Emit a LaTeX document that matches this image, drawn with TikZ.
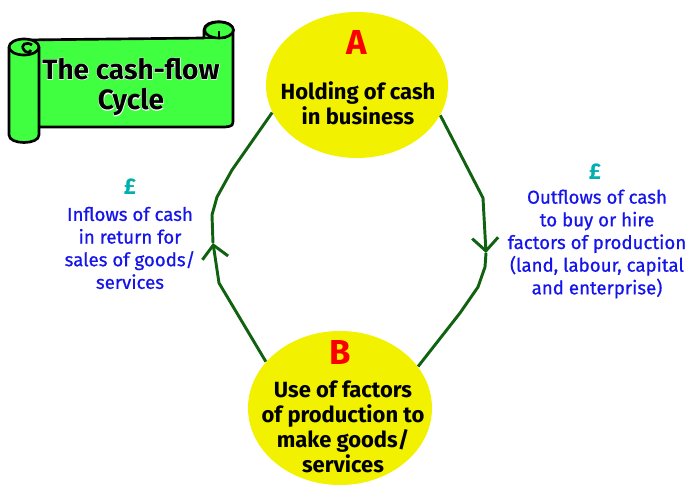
\documentclass[tikz,border=0pt]{standalone}
\usepackage{fontspec}
\setmainfont{Fira Sans}
\newfontfamily\flowfont[UprightFeatures={FakeBold=0.7}]{Fira Sans}
\newfontfamily\halofont[BoldFeatures={FakeBold=3.5}]{Fira Sans}
\usetikzlibrary{arrows.meta,shapes.geometric}

\definecolor{cashyellow}{RGB}{242,242,0}
\definecolor{flowgreen}{RGB}{16,98,16}
\definecolor{scrollgreen}{RGB}{64,255,64}
\definecolor{inkblue}{RGB}{20,20,235}
\definecolor{pound}{RGB}{0,175,175}
\definecolor{letterred}{RGB}{250,0,0}

\tikzset{every picture/.style={line width=0.75pt}}

\begin{document}
\begin{tikzpicture}[x=0.75pt,y=0.75pt,yscale=-1,xscale=1,
	bubble/.style={ellipse, fill=cashyellow, inner sep=0pt},
	bubbletext/.style={align=center, font=\fontsize{16.5}{18.75}\selectfont\bfseries},
	letter/.style={text=letterred, font=\fontsize{26}{26}\selectfont\bfseries},
	flowtext/.style={align=center, text=inkblue, font=\flowfont\fontsize{14}{17}\selectfont},
	poundsign/.style={text=pound, font=\fontsize{17}{17}\selectfont\bfseries},
	flow/.style={draw=flowgreen, line width=2.2pt, line join=round},
	barb/.style={-{Straight Barb[length=9.75pt,width=19.5pt,line width=2.2pt]}},
	scroll/.style={draw=black, fill=scrollgreen, line width=2pt, line join=round},
	titletext/.style={align=center, font=\fontsize{21}{23}\selectfont\bfseries},
	titlehalo/.style={align=center, text=white, font=\halofont\fontsize{21}{23}\selectfont\bfseries}
	]
	\useasboundingbox (0,0) rectangle (696,488);

	%Scroll body with right roll
	\draw [scroll] (24,40) -- (204,38) -- (204,30) .. controls (204,19) and (233,19) .. (233,30) -- (233,118) .. controls (233,126) .. (225,127) -- (39,127) -- cycle ;
	\draw [scroll] (219,30) ellipse [x radius=14.5, y radius=8] ;
	\draw [line width=2pt] (205,38) -- (226,38) ;
	\draw [line width=2pt] (219,31) -- (219,38) ;
	%Scroll left roll
	\draw [scroll] (9,47) -- (9,135) .. controls (9,145) and (39,145) .. (39,135) -- (39,47) ;
	\draw [scroll] (24,47) ellipse [x radius=15, y radius=8] ;
	\draw [line width=2pt] (32,45) .. controls (26,41) and (20,45) .. (24,50) .. controls (26,53) and (30,53) .. (31,50) ;

	% Title
	\node [titlehalo] (titlehalo) at (131,87) {The cash-flow\\Cycle};
	\node [titletext] (title) at (131,87) {The cash-flow\\Cycle};

	% Bubbles
	\node [bubble, minimum width=136.5pt, minimum height=109.5pt] (A) at (357,85) {};
	\node [bubble, minimum width=138pt, minimum height=115.5pt] (B) at (340,408) {};

	\node [letter] (Aletter) at (357,42) {A};
	\node [bubbletext] (Atext) at (358,103) {Holding of cash\\in business};
	\node [letter] (Bletter) at (340,352) {B};
	\node [bubbletext] (Btext) at (343,427) {Use of factors\\of production to\\make goods/\\services};

	% Flow lines
	\coordinate (L1) at (232,170);
	\coordinate (L2) at (217,197);
	\coordinate (L3) at (212,215);
	\coordinate (Ltip) at (213,243);
	\coordinate (L4) at (219,283);
	\coordinate (R1) at (483,198);
	\coordinate (Rtip) at (486,253);
	\coordinate (R2) at (485,267);
	\coordinate (R3) at (478,287);
	\coordinate (R4) at (460,313);

	\draw [flow] (Ltip) -- (L3) -- (L2) -- (L1) -- (A.198) ;
	\draw [flow, barb] (B.148) -- (L4) -- (Ltip) ;
	\draw [flow, barb] (A.340) -- (R1) -- (Rtip) ;
	\draw [flow] (Rtip) -- (R2) -- (R3) -- (R4) -- (B.28) ;

	% Side texts
	\node [poundsign] (inpound) at (130,187) {£};
	\node [flowtext] (intext) at (130,248) {Inflows of cash\\in return for\\sales of goods/\\services};
	\node [poundsign] (outpound) at (595,172) {£};
	\node [flowtext] (outtext) at (597,244) {Outflows of cash\\to buy or hire\\factors of production\\(land, labour, capital\\and enterprise)};

\end{tikzpicture}
\end{document}
